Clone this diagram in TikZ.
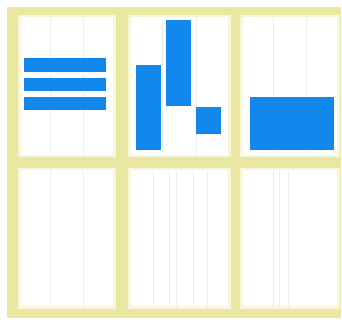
\documentclass[tikz,border=0pt]{standalone}
\usetikzlibrary{calc}
\definecolor{frameyellow}{RGB}{233,231,162}
\definecolor{panelcream}{RGB}{246,246,220}
\definecolor{barblue}{RGB}{18,136,236}
\definecolor{gridgray}{RGB}{234,236,240}
\begin{document}
\begin{tikzpicture}[
    x=1pt, y=-1pt,
    panel/.style={rectangle, draw=panelcream, fill=white, line width=2.5pt, anchor=north west, inner sep=0pt},
    bar/.style={rectangle, fill=barblue, anchor=north west, inner sep=0pt},
    grid/.style={gridgray, line width=0.6pt}
]

% Canvas and frame
\useasboundingbox (0,0) rectangle (342,320);
\fill[frameyellow] (7,7) rectangle (341,318);

% Panels - top row
\node[panel, minimum width=95pt, minimum height=140pt] (p1) at (18,15) {};
\node[panel, minimum width=100pt, minimum height=140pt] (p2) at (128,15) {};
\node[panel, minimum width=97pt, minimum height=140pt] (p3) at (240,15) {};

% Panels - bottom row
\node[panel, minimum width=95pt, minimum height=138pt] (p4) at (18,168) {};
\node[panel, minimum width=100pt, minimum height=138pt] (p5) at (128,168) {};
\node[panel, minimum width=97pt, minimum height=138pt] (p6) at (240,168) {};

% Grid lines
\foreach \p in {p1,p2,p3,p4}
  \foreach \f in {0.333,0.667}
    \draw[grid] ($(\p.north west)!\f!(\p.north east)+(0,3)$) -- ($(\p.south west)!\f!(\p.south east)+(0,-3)$);
\foreach \f in {0.25,0.40,0.47,0.64,0.77}
  \draw[grid] ($(p5.north west)!\f!(p5.north east)+(0,3)$) -- ($(p5.south west)!\f!(p5.south east)+(0,-3)$);
\foreach \f in {0.33,0.39,0.49}
  \draw[grid] ($(p6.north west)!\f!(p6.north east)+(0,3)$) -- ($(p6.south west)!\f!(p6.south east)+(0,-3)$);

% Bars - rows
\node[bar, minimum width=82pt, minimum height=14pt] (r1) at (24,58) {};
\node[bar, minimum width=82pt, minimum height=13pt] (r2) at (24,78) {};
\node[bar, minimum width=82pt, minimum height=13pt] (r3) at (24,97) {};

% Bars - columns
\node[bar, minimum width=25pt, minimum height=85pt] (c1) at (136,65) {};
\node[bar, minimum width=25pt, minimum height=86pt] (c2) at (166,20) {};
\node[bar, minimum width=25pt, minimum height=27pt] (c3) at (196,107) {};

% Bars - block
\node[bar, minimum width=84pt, minimum height=53pt] (b1) at (250,97) {};

\end{tikzpicture}
\end{document}
